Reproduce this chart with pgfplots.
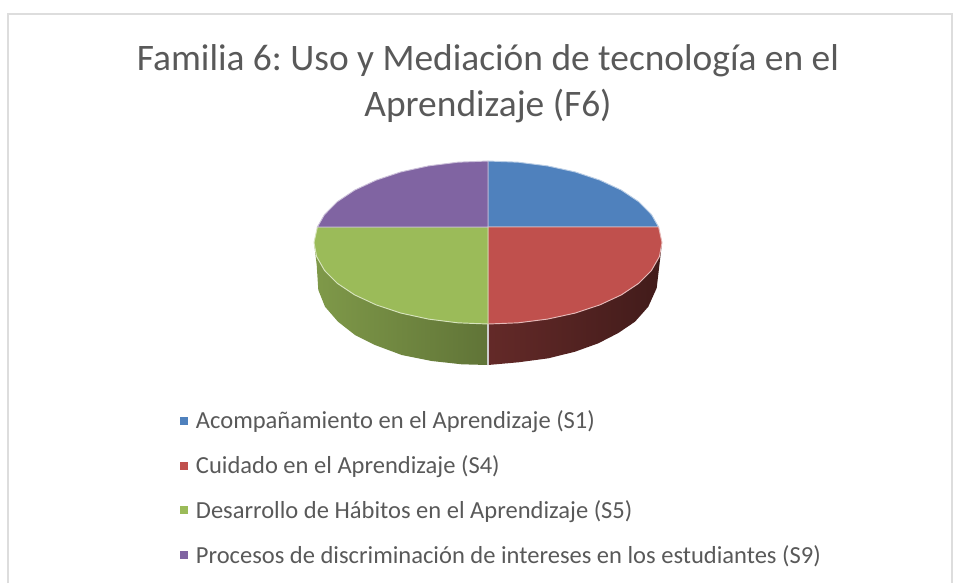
\documentclass[border=0pt]{standalone}
\usepackage{pgfplots}
\pgfplotsset{compat=1.18}
\usepackage{fontspec}
\setmainfont{Carlito}
\frenchspacing
\definecolor{cblue}{HTML}{4F81BD}
\definecolor{cred}{HTML}{C0504D}
\definecolor{cgreen}{HTML}{9BBB59}
\definecolor{cpurple}{HTML}{8064A2}
\definecolor{ctext}{HTML}{595959}
\definecolor{cframe}{HTML}{DDDDDD}
\begin{document}
\begin{tikzpicture}[x=0.75pt,y=0.75pt]
\path[use as bounding box] (0,0) rectangle (953,583);
\begin{axis}[
  at={(0,0)}, anchor=south west,
  scale only axis, width=714.75pt, height=437.25pt,
  xmin=0, xmax=953, ymin=0, ymax=583, y dir=reverse,
  hide axis, clip=false,
  title={Familia 6: Uso y Mediación de tecnología en el\\Aprendizaje (F6)},
  title style={at={(axis cs:488,52)}, anchor=north, align=center, inner sep=0pt,
    font=\fontsize{28.05}{34.5}\selectfont, text=ctext},
  legend cell align=left,
  legend style={at={(axis cs:179,408)}, anchor=north west, draw=none, fill=none,
    font=\fontsize{18.4}{22}\selectfont, text=ctext, row sep=14.6pt, inner xsep=0pt, inner ysep=0pt},
  legend image code/.code={\fill[#1,draw=none] (0pt,-3pt) rectangle (6pt,3pt); \path (0pt,0pt) (9.8pt,0pt);},
]
% frame
\addplot[forget plot, cframe, line width=1.6pt] coordinates {(8,583) (8,14) (953,14)};
\addplot[forget plot, cframe, line width=1.2pt] coordinates {(952,14) (952,583)};
% side walls
\addplot[forget plot, draw=none, left color=cgreen!82!black, right color=cgreen!62!black]
 coordinates {(314,242.5) (316.6,256.6) (324.5,270.4) (337.3,283.3) (354.7,294.9) (376.2,304.9) (401,313.1) (428.5,319.1) (457.8,322.8) (488,324)
  (488,365) (461.7,364.3) (431.7,361) (401.7,355) (375,345) (355,335) (338,321.7) (325,306.7) (318.3,290) (316.7,265)} -- cycle;
\addplot[forget plot, draw=none, left color=cred!52!black, right color=cred!34!black]
 coordinates {(662,242.5) (659.4,256.6) (651.5,270.4) (638.7,283.3) (621.3,294.9) (599.8,304.9) (575,313.1) (547.5,319.1) (518.2,322.8) (488,324)
  (488,365) (518.3,362.3) (548.3,358.3) (575,351.7) (598.3,343.3) (618.3,333) (635,321.7) (648.3,306.7) (656.7,288) (660,260)} -- cycle;
\addplot[forget plot, white!80!black, line width=0.9pt] coordinates {(488,324) (488,365)};
% top faces
\addplot[fill=cblue, draw=white!60!cblue, line width=0.7pt]
 coordinates {(488,227) (488,161) (518.2,162.2) (547.5,165.9) (575,171.9) (599.8,180.1) (621.3,190.1) (638.7,201.7) (651.5,214.6) (658.6,227)} -- cycle;
\addlegendentry{Acompañamiento en el Aprendizaje (S1)}
\addplot[fill=cred, draw=white!60!cred, line width=0.7pt]
 coordinates {(488,227) (658.6,227) (662,242.5) (659.4,256.6) (651.5,270.4) (638.7,283.3) (621.3,294.9) (599.8,304.9) (575,313.1) (547.5,319.1) (518.2,322.8) (488,324)} -- cycle;
\addlegendentry{Cuidado en el Aprendizaje (S4)}
\addplot[fill=cgreen, draw=white!60!cgreen, line width=0.7pt]
 coordinates {(488,227) (488,324) (457.8,322.8) (428.5,319.1) (401,313.1) (376.2,304.9) (354.7,294.9) (337.3,283.3) (324.5,270.4) (316.6,256.6) (314,242.5) (317.4,227)} -- cycle;
\addlegendentry{Desarrollo de Hábitos en el Aprendizaje (S5)}
\addplot[fill=cpurple, draw=white!60!cpurple, line width=0.7pt]
 coordinates {(488,227) (317.4,227) (324.5,214.6) (337.3,201.7) (354.7,190.1) (376.2,180.1) (401,171.9) (428.5,165.9) (457.8,162.2) (488,161)} -- cycle;
\addlegendentry{Procesos de discriminación de intereses en los estudiantes (S9)}
\end{axis}
\end{tikzpicture}
\end{document}
